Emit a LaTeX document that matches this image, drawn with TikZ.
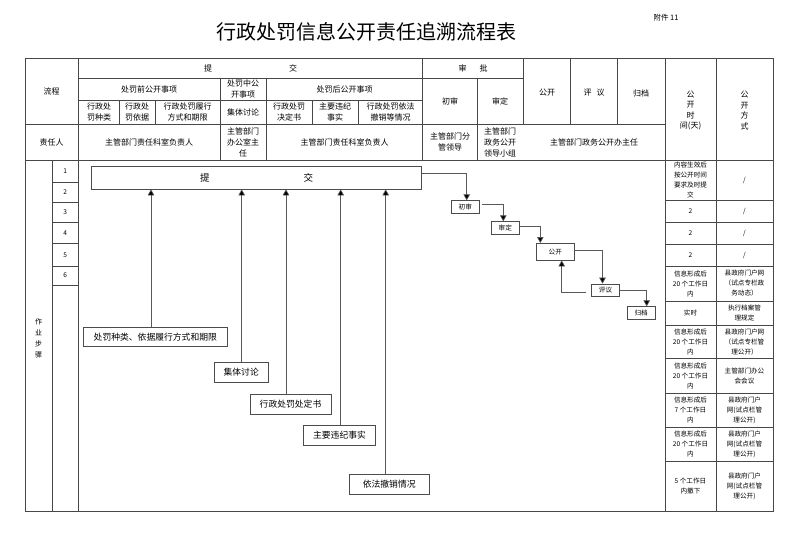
\documentclass[tikz,border=0pt]{standalone}
\usepackage{fontspec}
\setmainfont{Noto Sans CJK SC}
\usetikzlibrary{arrows.meta}
\tikzset{
  tline/.style={draw=black!72, line width=0.75pt},
  hd/.style={font=\fontsize{8}{11}\selectfont, align=center, inner sep=0pt},
  rc/.style={font=\fontsize{6.6}{10}\selectfont, align=center, inner sep=0pt},
  fbox/.style={draw=black!70, line width=0.8pt, inner sep=0pt, font=\fontsize{8.8}{11}\selectfont},
  sbox/.style={draw=black!70, line width=0.7pt, inner sep=0pt, font=\fontsize{6.6}{8}\selectfont, minimum width=27.5pt, minimum height=12.6pt},
  arr/.style={draw=black!65, line width=0.65pt, -{Triangle[length=6pt,width=6.5pt,fill=black]}}
}
\begin{document}
\begin{tikzpicture}[x=1pt,y=-1pt]
\useasboundingbox (0,0) rectangle (800,544);
\fill[white] (0,0) rectangle (800,544);
% title
\node[font=\fontsize{20}{24}\selectfont, inner sep=0pt] (title) at (366.5,32) {行政处罚信息公开责任追溯流程表};
\node[font=\fontsize{7.5}{9}\selectfont, inner sep=0pt] (att) at (666,18) {附件 11};
% table grid
\draw[tline] (25,58) rectangle (773,511);
\draw[tline] (78.3,78.3) -- (523.3,78.3);
\draw[tline] (78.3,100) -- (422.7,100);
\draw[tline] (25,124) -- (665,124);
\draw[tline] (25,160.5) -- (773,160.5);
\draw[tline] (78.3,58) -- (78.3,511);
\draw[tline] (52.3,160.5) -- (52.3,511);
\draw[tline] (220,78.3) -- (220,160.5);
\draw[tline] (266,78.3) -- (266,160.5);
\foreach \x in {119.3,155,312.3,358.3} \draw[tline] (\x,100) -- (\x,124);
\draw[tline] (422.7,58) -- (422.7,160.5);
\draw[tline] (477.3,78.3) -- (477.3,160.5);
\foreach \x in {523.3,570.7,617.7} \draw[tline] (\x,58) -- (\x,124);
\draw[tline] (665,58) -- (665,511);
\draw[tline] (716,58) -- (716,511);
\foreach \y in {200,222,244,266,301,325.5,358,393,427,461.7} \draw[tline] (665,\y) -- (773,\y);
\foreach \y in {182,202,222,243.3,266,285} \draw[tline] (52.3,\y) -- (78.3,\y);
% header texts
\node[hd] (h1) at (51.5,91) {流程};
\node[hd] (h2) at (250.5,68.3) {提\hspace{77pt}交};
\node[hd] (h3) at (473,68.3) {审\hspace{13pt}批};
\node[hd] (h4) at (149,89) {处罚前公开事项};
\node[hd] (h5) at (243,89) {处罚中公\\开事项};
\node[hd] (h6) at (344.5,89) {处罚后公开事项};
\node[hd] (h7) at (99,112) {行政处\\罚种类};
\node[hd] (h8) at (137,112) {行政处\\罚依据};
\node[hd] (h9) at (187.5,112) {行政处罚履行\\方式和期限};
\node[hd] (h10) at (243,112) {集体讨论};
\node[hd] (h11) at (289,112) {行政处罚\\决定书};
\node[hd] (h12) at (335,112) {主要违纪\\事实};
\node[hd] (h13) at (390.5,112) {行政处罚依法\\撤销等情况};
\node[hd] (h14) at (450,101.5) {初审};
\node[hd] (h15) at (500,101.5) {审定};
\node[hd] (h16) at (547,93) {公开};
\node[hd] (h17) at (594,93) {评\hspace{5pt}议};
\node[hd] (h18) at (641,93) {归档};
\node[hd, font=\fontsize{8}{10.5}\selectfont] (h19) at (690.5,110.5) {公\\开\\时\\间(天)};
\node[hd, font=\fontsize{8}{10.5}\selectfont] (h20) at (744.5,110.5) {公\\开\\方\\式};
\node[hd] (r1) at (51.5,142) {责任人};
\node[hd] (r2) at (149,142) {主管部门责任科室负责人};
\node[hd] (r3) at (243,142) {主管部门\\办公室主\\任};
\node[hd] (r4) at (344.5,142) {主管部门责任科室负责人};
\node[hd] (r5) at (450,142) {主管部门分\\管领导};
\node[hd] (r6) at (500,142) {主管部门\\政务公开\\领导小组};
\node[hd] (r7) at (594,142) {主管部门政务公开办主任};
% left column
\node[hd, font=\fontsize{7}{11}\selectfont] (zy) at (38.6,338.5) {作\\业\\步\\骤};
\node[rc] (n1) at (65.3,171.2) {1};
\node[rc] (n2) at (65.3,192) {2};
\node[rc] (n3) at (65.3,212) {3};
\node[rc] (n4) at (65.3,232.7) {4};
\node[rc] (n5) at (65.3,254.7) {5};
\node[rc] (n6) at (65.3,275.5) {6};
% right columns
\node[rc] (t1) at (690.5,180.2) {内容生效后\\按公开时间\\要求及时提\\交};
\node[rc] (m1) at (744.5,180.2) {/};
\node[rc] (t2) at (690.5,211) {2};
\node[rc] (m2) at (744.5,211) {/};
\node[rc] (t3) at (690.5,233) {2};
\node[rc] (m3) at (744.5,233) {/};
\node[rc] (t4) at (690.5,255) {2};
\node[rc] (m4) at (744.5,255) {/};
\node[rc] (t5) at (690.5,283.5) {信息形成后\\20 个工作日\\内};
\node[rc] (m5) at (744.5,283.5) {县政府门户网\\（试点专栏政\\务动态）};
\node[rc] (t6) at (690.5,313.2) {实时};
\node[rc] (m6) at (744.5,313.2) {执行档案管\\理规定};
\node[rc] (t7) at (690.5,341.7) {信息形成后\\20 个工作日\\内};
\node[rc] (m7) at (744.5,341.7) {县政府门户网\\（试点专栏管\\理公开）};
\node[rc] (t8) at (690.5,375.5) {信息形成后\\20 个工作日\\内};
\node[rc] (m8) at (744.5,375.5) {主管部门办公\\会会议};
\node[rc] (t9) at (690.5,410) {信息形成后\\7 个工作日\\内};
\node[rc] (m9) at (744.5,410) {县政府门户\\网(试点栏管\\理公开)};
\node[rc] (t10) at (690.5,444.3) {信息形成后\\20 个工作日\\内};
\node[rc] (m10) at (744.5,444.3) {县政府门户\\网(试点栏管\\理公开)};
\node[rc] (t11) at (690.5,486.3) {5 个工作日\\内撤下};
\node[rc] (m11) at (744.5,486.3) {县政府门户\\网(试点栏管\\理公开)};
% flow boxes
\node[fbox, minimum width=330pt, minimum height=23pt, font=\fontsize{9.5}{11}\selectfont] (tj) at (256.7,177.5) {提\hspace{94pt}交};
\node[fbox, minimum width=144pt, minimum height=19pt] (b1) at (155.3,337.2) {处罚种类、依据履行方式和期限};
\node[fbox, minimum width=54.3pt, minimum height=20pt] (b2) at (241.2,372.3) {集体讨论};
\node[fbox, minimum width=81pt, minimum height=20pt] (b3) at (290.5,404) {行政处罚处定书};
\node[fbox, minimum width=72.4pt, minimum height=19.6pt] (b4) at (339.5,435.5) {主要违纪事实};
\node[fbox, minimum width=80.3pt, minimum height=19.7pt] (b5) at (389.2,484.2) {依法撤销情况};
\node[sbox] (cs) at (465.3,207) {初审};
\node[sbox] (sd) at (505.3,228) {审定};
\node[sbox, minimum width=37.3pt, minimum height=16.7pt] (gk) at (555.3,251.7) {公开};
\node[sbox] (py) at (605.5,290.3) {评议};
\node[sbox] (gd) at (641.2,313) {归档};
% vertical arrows into 提交
\coordinate (s1) at ([xshift=-4.3pt]b1.north);
\coordinate (s2) at ([xshift=0.5pt]b2.north);
\coordinate (s3) at ([xshift=-4.5pt]b3.north);
\coordinate (s4) at ([xshift=1.2pt]b4.north);
\coordinate (s5) at ([xshift=-3.5pt]b5.north);
\foreach \s in {s1,s2,s3,s4,s5} \draw[arr] (\s) -- (\s |- tj.south);
% approval chain
\draw[arr] ([yshift=4.2pt]tj.east) -| ([xshift=1.4pt]cs.north);
\draw[arr] ([xshift=2.5pt,yshift=3pt]cs.east) -| ([xshift=-2pt]sd.north);
\draw[arr] ([yshift=2pt]sd.east) -| ([xshift=4pt]gk.north west);
\draw[arr] ([yshift=1pt]gk.east) -| ([xshift=-3pt]py.north);
\draw[arr] ([xshift=-5pt,yshift=-2pt]py.west) -| ([xshift=6.4pt]gk.south);
\draw[arr] ([yshift=0.3pt]py.east) -| ([xshift=5.5pt]gd.north);
\end{tikzpicture}
\end{document}
